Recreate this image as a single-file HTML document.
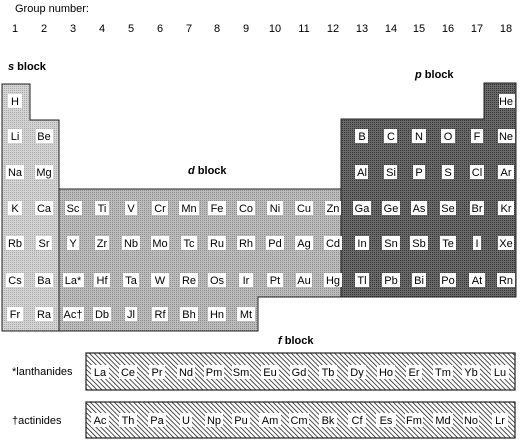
<!DOCTYPE html>
<html><head><meta charset="utf-8"><style>
html,body{margin:0;padding:0;background:#fff;}
svg{display:block;font-family:"Liberation Sans",sans-serif;}
</style></head><body>
<svg width="520" height="440" viewBox="0 0 520 440" xmlns="http://www.w3.org/2000/svg">
<defs>
<pattern id="hatch" width="3.4" height="3.4" patternUnits="userSpaceOnUse" patternTransform="rotate(-45)">
<rect width="3.4" height="3.4" fill="#fff"/><line x1="0" y1="0" x2="0" y2="3.4" stroke="#222" stroke-width="1.6"/>
</pattern>
<pattern id="ds" width="2" height="2" patternUnits="userSpaceOnUse"><rect width="2" height="2" fill="#d4d4d4"/><rect width="1" height="1" fill="#a8a8a8"/></pattern>
<pattern id="dd" width="2" height="2" patternUnits="userSpaceOnUse"><rect width="2" height="2" fill="#bdbdbd"/><rect width="1" height="1" fill="#8a8a8a"/></pattern>
<pattern id="dp" width="2" height="2" patternUnits="userSpaceOnUse"><rect width="2" height="2" fill="#6a6a6a"/><rect width="1" height="1" fill="#333"/></pattern>
</defs>
<g font-size="11" fill="#000">
<text x="15" y="12">Group number:</text>
<g text-anchor="middle">
<text x="15" y="32">1</text><text x="44" y="32">2</text><text x="73" y="32">3</text><text x="102" y="32">4</text><text x="131" y="32">5</text><text x="160" y="32">6</text><text x="189" y="32">7</text><text x="217" y="32">8</text><text x="246" y="32">9</text><text x="275" y="32">10</text><text x="304" y="32">11</text><text x="333" y="32">12</text><text x="362" y="32">13</text><text x="391" y="32">14</text><text x="419" y="32">15</text><text x="448" y="32">16</text><text x="477" y="32">17</text><text x="506" y="32">18</text>
</g>
</g>
<g font-size="11" font-weight="bold">
<text x="8" y="70"><tspan font-style="italic">s</tspan> block</text>
<text x="188" y="174"><tspan font-style="italic">d</tspan> block</text>
<text x="415" y="78"><tspan font-style="italic">p</tspan> block</text>
<text x="278" y="344"><tspan font-style="italic">f</tspan> block</text>
</g>
<polygon points="2,84 30,84 30,120 59,120 59,331 2,331" fill="url(#ds)" stroke="#222" stroke-width="1"/>
<polygon points="59,189 341,189 341,297 258,297 258,331 59,331" fill="url(#dd)" stroke="#222" stroke-width="1"/>
<polygon points="341,119 484,119 484,83 516,83 516,297 341,297" fill="url(#dp)" stroke="#222" stroke-width="1"/>
<rect x="86" y="353" width="429" height="37" fill="url(#hatch)" stroke="#222" stroke-width="1.2"/>
<rect x="86" y="402" width="429" height="36" fill="url(#hatch)" stroke="#222" stroke-width="1.2"/>
<text x="12" y="375" font-size="11">*lanthanides</text>
<text x="12" y="424" font-size="11">†actinides</text>
<g fill="#fff">
<rect x="8" y="94" width="14" height="14"/><rect x="499" y="94" width="16" height="14"/>
<rect x="8" y="129" width="14" height="14"/><rect x="36" y="129" width="17" height="14"/>
<rect x="355" y="129" width="13" height="14"/><rect x="384" y="129" width="13" height="14"/><rect x="412" y="129" width="14" height="14"/><rect x="441" y="129" width="14" height="14"/><rect x="471" y="129" width="12" height="14"/><rect x="498" y="129" width="17" height="14"/>
<rect x="6" y="165" width="18" height="14"/><rect x="35" y="165" width="18" height="14"/>
<rect x="355" y="165" width="13" height="14"/><rect x="384" y="165" width="13" height="14"/><rect x="413" y="165" width="12" height="14"/><rect x="442" y="165" width="12" height="14"/><rect x="470" y="165" width="14" height="14"/><rect x="498" y="165" width="16" height="14"/>
</g>
<g fill="#fff">
<rect x="8" y="201" width="14" height="14"/><rect x="35" y="201" width="18" height="14"/><rect x="65" y="201" width="17" height="14"/><rect x="95" y="201" width="14" height="14"/><rect x="125" y="201" width="12" height="14"/><rect x="152" y="201" width="16" height="14"/><rect x="179" y="201" width="20" height="14"/><rect x="208" y="201" width="18" height="14"/><rect x="237" y="201" width="18" height="14"/><rect x="267" y="201" width="16" height="14"/><rect x="295" y="201" width="18" height="14"/><rect x="325" y="201" width="16" height="14"/><rect x="353" y="201" width="18" height="14"/><rect x="382" y="201" width="18" height="14"/><rect x="411" y="201" width="16" height="14"/><rect x="440" y="201" width="16" height="14"/><rect x="470" y="201" width="14" height="14"/><rect x="498" y="201" width="16" height="14"/>
<rect x="6" y="236" width="18" height="14"/><rect x="36" y="236" width="16" height="14"/><rect x="67" y="236" width="12" height="14"/><rect x="95" y="236" width="14" height="14"/><rect x="122" y="236" width="18" height="14"/><rect x="151" y="236" width="18" height="14"/><rect x="181" y="236" width="16" height="14"/><rect x="208" y="236" width="18" height="14"/><rect x="237" y="236" width="18" height="14"/><rect x="266" y="236" width="18" height="14"/><rect x="295" y="236" width="18" height="14"/><rect x="324" y="236" width="18" height="14"/><rect x="355" y="236" width="14" height="14"/><rect x="382" y="236" width="18" height="14"/><rect x="410" y="236" width="18" height="14"/><rect x="440" y="236" width="16" height="14"/><rect x="473" y="236" width="8" height="14"/><rect x="498" y="236" width="16" height="14"/>
<rect x="6" y="273" width="18" height="14"/><rect x="35" y="273" width="18" height="14"/><rect x="63" y="273" width="21" height="14"/><rect x="94" y="273" width="16" height="14"/><rect x="123" y="273" width="16" height="14"/><rect x="151" y="273" width="18" height="14"/><rect x="180" y="273" width="18" height="14"/><rect x="208" y="273" width="18" height="14"/><rect x="239" y="273" width="14" height="14"/><rect x="267" y="273" width="16" height="14"/><rect x="296" y="273" width="16" height="14"/><rect x="324" y="273" width="18" height="14"/><rect x="355" y="273" width="14" height="14"/><rect x="382" y="273" width="18" height="14"/><rect x="412" y="273" width="14" height="14"/><rect x="440" y="273" width="16" height="14"/><rect x="469" y="273" width="16" height="14"/><rect x="497" y="273" width="18" height="14"/>
<rect x="7" y="307" width="16" height="14"/><rect x="35" y="307" width="18" height="14"/><rect x="63" y="307" width="21" height="14"/><rect x="93" y="307" width="18" height="14"/><rect x="125" y="307" width="12" height="14"/><rect x="152" y="307" width="16" height="14"/><rect x="180" y="307" width="18" height="14"/><rect x="208" y="307" width="18" height="14"/><rect x="237" y="307" width="18" height="14"/>
</g>
<g fill="#fff">
<rect x="91" y="365" width="18" height="14"/><rect x="119" y="365" width="18" height="14"/><rect x="149" y="365" width="16" height="14"/><rect x="177" y="365" width="18" height="14"/><rect x="204" y="365" width="20" height="14"/><rect x="232" y="365" width="18" height="14"/><rect x="261" y="365" width="18" height="14"/><rect x="290" y="365" width="18" height="14"/><rect x="319" y="365" width="18" height="14"/><rect x="348" y="365" width="18" height="14"/><rect x="377" y="365" width="18" height="14"/><rect x="406" y="365" width="16" height="14"/><rect x="433" y="365" width="20" height="14"/><rect x="462" y="365" width="18" height="14"/><rect x="491" y="365" width="18" height="14"/>
<rect x="91" y="413" width="18" height="14"/><rect x="119" y="413" width="18" height="14"/><rect x="148" y="413" width="18" height="14"/><rect x="180" y="413" width="12" height="14"/><rect x="205" y="413" width="18" height="14"/><rect x="232" y="413" width="18" height="14"/><rect x="259" y="413" width="22" height="14"/><rect x="289" y="413" width="20" height="14"/><rect x="319" y="413" width="18" height="14"/><rect x="348" y="413" width="18" height="14"/><rect x="376" y="413" width="20" height="14"/><rect x="405" y="413" width="18" height="14"/><rect x="433" y="413" width="20" height="14"/><rect x="463" y="413" width="16" height="14"/><rect x="492" y="413" width="16" height="14"/>
</g>
<g font-size="11" text-anchor="middle" fill="#000">
<text x="15" y="105">H</text><text x="506" y="105">He</text>
<text x="15" y="140">Li</text><text x="44" y="140">Be</text><text x="362" y="140">B</text><text x="391" y="140">C</text><text x="419" y="140">N</text><text x="448" y="140">O</text><text x="477" y="140">F</text><text x="506" y="140">Ne</text>
<text x="15" y="176">Na</text><text x="44" y="176">Mg</text><text x="362" y="176">Al</text><text x="391" y="176">Si</text><text x="419" y="176">P</text><text x="448" y="176">S</text><text x="477" y="176">Cl</text><text x="506" y="176">Ar</text>
<text x="15" y="212">K</text><text x="44" y="212">Ca</text><text x="73" y="212">Sc</text><text x="102" y="212">Ti</text><text x="131" y="212">V</text><text x="160" y="212">Cr</text><text x="189" y="212">Mn</text><text x="217" y="212">Fe</text><text x="246" y="212">Co</text><text x="275" y="212">Ni</text><text x="304" y="212">Cu</text><text x="333" y="212">Zn</text><text x="362" y="212">Ga</text><text x="391" y="212">Ge</text><text x="419" y="212">As</text><text x="448" y="212">Se</text><text x="477" y="212">Br</text><text x="506" y="212">Kr</text>
<text x="15" y="247">Rb</text><text x="44" y="247">Sr</text><text x="73" y="247">Y</text><text x="102" y="247">Zr</text><text x="131" y="247">Nb</text><text x="160" y="247">Mo</text><text x="189" y="247">Tc</text><text x="217" y="247">Ru</text><text x="246" y="247">Rh</text><text x="275" y="247">Pd</text><text x="304" y="247">Ag</text><text x="333" y="247">Cd</text><text x="362" y="247">In</text><text x="391" y="247">Sn</text><text x="419" y="247">Sb</text><text x="448" y="247">Te</text><text x="477" y="247">I</text><text x="506" y="247">Xe</text>
<text x="15" y="284">Cs</text><text x="44" y="284">Ba</text><text x="73" y="284">La*</text><text x="102" y="284">Hf</text><text x="131" y="284">Ta</text><text x="160" y="284">W</text><text x="189" y="284">Re</text><text x="217" y="284">Os</text><text x="246" y="284">Ir</text><text x="275" y="284">Pt</text><text x="304" y="284">Au</text><text x="333" y="284">Hg</text><text x="362" y="284">Tl</text><text x="391" y="284">Pb</text><text x="419" y="284">Bi</text><text x="448" y="284">Po</text><text x="477" y="284">At</text><text x="506" y="284">Rn</text>
<text x="15" y="318">Fr</text><text x="44" y="318">Ra</text><text x="73" y="318">Ac†</text><text x="102" y="318">Db</text><text x="131" y="318">Jl</text><text x="160" y="318">Rf</text><text x="189" y="318">Bh</text><text x="217" y="318">Hn</text><text x="246" y="318">Mt</text>
<text x="100" y="376">La</text><text x="128" y="376">Ce</text><text x="157" y="376">Pr</text><text x="186" y="376">Nd</text><text x="214" y="376">Pm</text><text x="241" y="376">Sm</text><text x="270" y="376">Eu</text><text x="299" y="376">Gd</text><text x="328" y="376">Tb</text><text x="357" y="376">Dy</text><text x="386" y="376">Ho</text><text x="414" y="376">Er</text><text x="443" y="376">Tm</text><text x="471" y="376">Yb</text><text x="500" y="376">Lu</text>
<text x="100" y="424">Ac</text><text x="128" y="424">Th</text><text x="157" y="424">Pa</text><text x="186" y="424">U</text><text x="214" y="424">Np</text><text x="241" y="424">Pu</text><text x="270" y="424">Am</text><text x="299" y="424">Cm</text><text x="328" y="424">Bk</text><text x="357" y="424">Cf</text><text x="386" y="424">Es</text><text x="414" y="424">Fm</text><text x="443" y="424">Md</text><text x="471" y="424">No</text><text x="500" y="424">Lr</text>
</g>
</svg>
</body></html>
